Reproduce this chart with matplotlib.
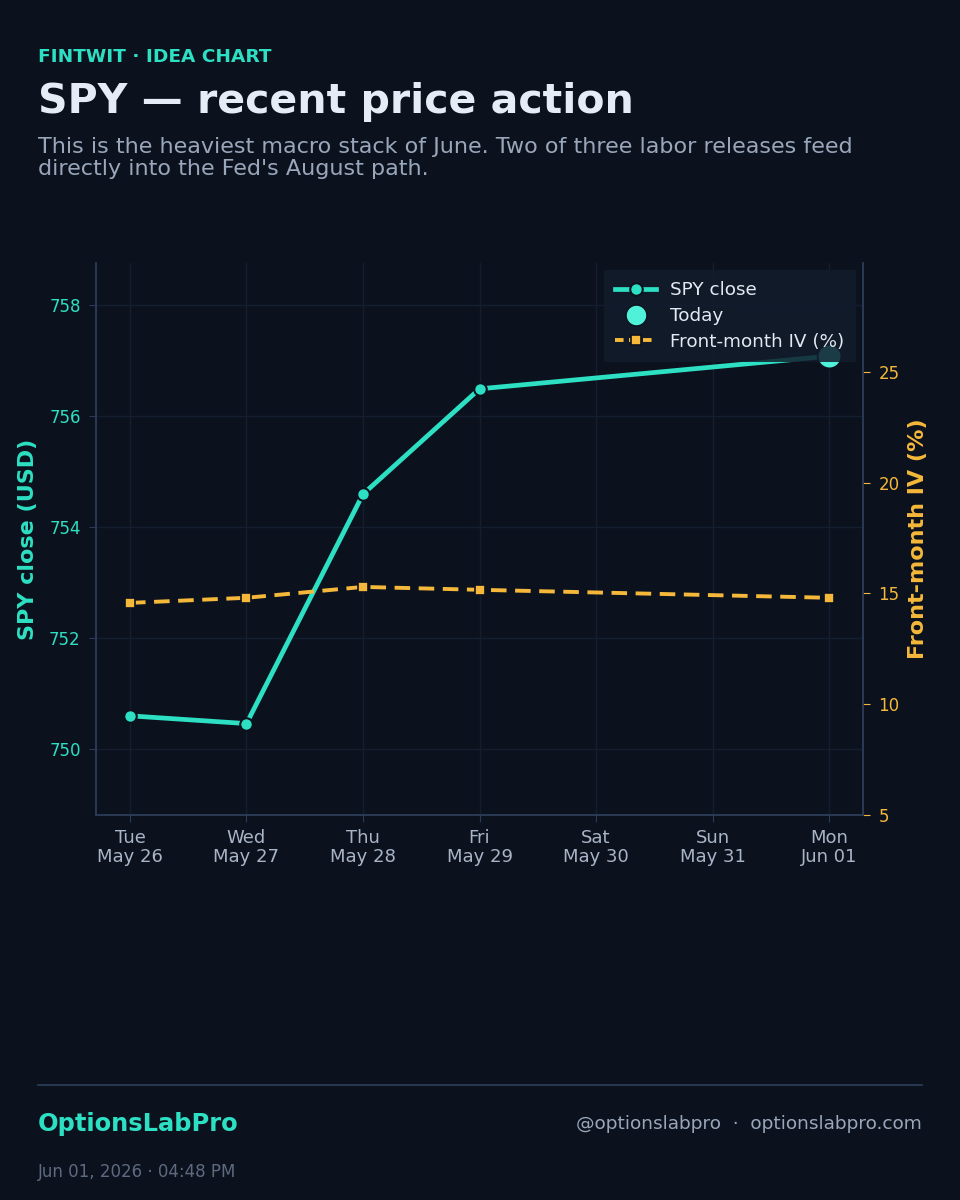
import matplotlib
import matplotlib.pyplot as plt
import matplotlib.dates as mdates
import numpy as np
from matplotlib.lines import Line2D

matplotlib.use('AGG')
plt.rcParams['font.family'] = ['DejaVu Sans']

# Colores
BG = "#0B121E"
TEAL = "#2EE0C3"
TODAY_C = "#4FF2D8"
AMBER = "#F5B83A"
TITLE_C = "#E6ECF5"
SUB_C = "#9AA7BB"
TICK_C = "#A9B4C6"
SPINE_C = "#2B3B55"
GRID_C = "#141E2E"

# Datos
calendar_days = np.array(["2026-05-26", "2026-05-27", "2026-05-28", "2026-05-29",
                          "2026-05-30", "2026-05-31", "2026-06-01"], dtype="datetime64[D]")
trade_days = np.array(["2026-05-26", "2026-05-27", "2026-05-28", "2026-05-29",
                       "2026-06-01"], dtype="datetime64[D]")
spy_close = [750.59, 750.45, 754.59, 756.49, 757.08]
iv_front = [14.57, 14.80, 15.29, 15.16, 14.80]
today = np.array(["2026-06-01"], dtype="datetime64[D]")
today_close = [757.08]

fig = plt.figure(figsize=(9.6, 12), dpi=100, facecolor=BG)
ax = fig.add_axes([0.1, 0.3208, 0.799, 0.46])
ax.set_facecolor(BG)
ax2 = ax.twinx()

ax.plot(trade_days, spy_close, color=TEAL, lw=3.4, marker="o", ms=9,
        mfc=TEAL, mec=BG, mew=1.5, zorder=3, label="SPY close")
ax.scatter(today, today_close, s=290, color=TODAY_C, edgecolor=BG, lw=1.2, zorder=4)

ax2.plot(trade_days, iv_front, color=AMBER, lw=2.8, ls=(0, (4.0, 2.2)), marker="s", ms=7,
         mfc=AMBER, mec=BG, mew=1.2, zorder=3)

x0 = calendar_days[0].astype("datetime64[h]") - np.timedelta64(7, "h")
x1 = calendar_days[-1].astype("datetime64[h]") + np.timedelta64(7, "h")
ax.set_xlim(x0, x1)
ax.set_ylim(748.8, 758.76)
ax2.set_ylim(5, 29.9)

ax.set_xticks(calendar_days)
ax.xaxis.set_major_formatter(mdates.DateFormatter("%a\n%b %d"))
ax.set_yticks([750, 752, 754, 756, 758])
ax2.set_yticks([5, 10, 15, 20, 25])

ax.grid(True, color=GRID_C, lw=1)
ax.tick_params(axis="x", colors=SPINE_C, labelcolor=TICK_C, labelsize=13, length=5, pad=5)
ax.tick_params(axis="y", colors=SPINE_C, labelcolor=TEAL, labelsize=12, length=5, pad=6)
ax2.tick_params(axis="y", colors=AMBER, labelcolor=AMBER, labelsize=12, length=5, pad=6)
for t in ax.get_xticklabels():
    t.set_linespacing(1.1)

for a in (ax, ax2):
    a.spines["top"].set_visible(False)
    for s in ("left", "right", "bottom"):
        a.spines[s].set_color(SPINE_C)
        a.spines[s].set_linewidth(1.2)

ax.set_ylabel("SPY close (USD)", color=TEAL, fontsize=16, fontweight="bold", labelpad=8)
ax2.set_ylabel("Front-month IV (%)", color=AMBER, fontsize=16, fontweight="bold", labelpad=6)

handles = [
    Line2D([], [], color=TEAL, lw=3.4, marker="o", ms=9, mfc=TEAL, mec=BG, mew=1.5),
    Line2D([], [], ls="none", marker="o", ms=15, mfc=TODAY_C, mec=BG),
    Line2D([], [], color=AMBER, lw=2.8, ls=(0, (2.2, 1.4)), marker="s", ms=7, mfc=AMBER, mec=BG, mew=1.2),
]
leg = ax2.legend(handles, ["SPY close", "Today", "Front-month IV (%)"], loc="upper right",
                 fontsize=13.2, facecolor="#121C2C", edgecolor="none", framealpha=0.85,
                 labelcolor="#E3E9F2", borderaxespad=0.6, handlelength=2.2,
                 labelspacing=0.42, handletextpad=0.8)
leg.get_frame().set_boxstyle("square", pad=0.2)

# Encabezado
fig.text(0.0396, 0.9482, "FINTWIT · IDEA CHART", color=TEAL, fontsize=13.3, fontweight="bold", va="baseline")
fig.text(0.0396, 0.9058, "SPY — recent price action", color=TITLE_C, fontsize=29.5, fontweight="bold", va="baseline")
fig.text(0.0396, 0.8862, "This is the heaviest macro stack of June. Two of three labor releases feed\n"
         "directly into the Fed's August path.", color=SUB_C, fontsize=16, va="top", linespacing=1.14)

# Pie
fig.add_artist(Line2D([0.0396, 0.9604], [0.0958, 0.0958], color=SPINE_C, lw=1.3))
fig.text(0.0396, 0.0633, "OptionsLabPro", color=TEAL, fontsize=17.4, fontweight="bold", va="center")
fig.text(0.9604, 0.0633, "@optionslabpro  ·  optionslabpro.com", color=SUB_C, fontsize=13.3,
         va="center", ha="right")
fig.text(0.0396, 0.0233, "Jun 01, 2026 · 04:48 PM", color="#5E6A80", fontsize=12, va="center")

plt.savefig("out.png", facecolor=BG)
